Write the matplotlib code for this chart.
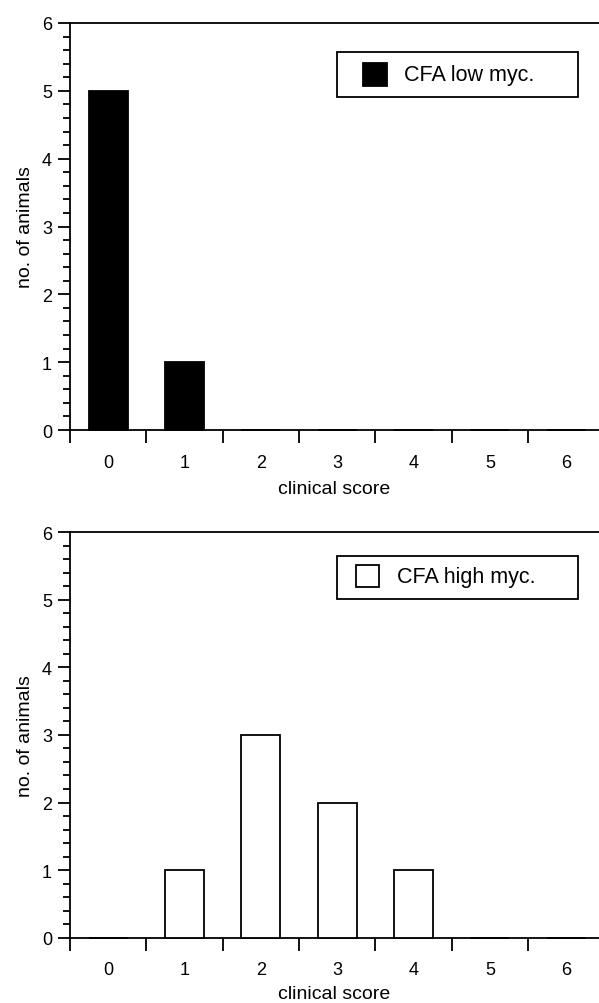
"""Clinical score histograms, CFA low vs high mycobacterium (two stacked panels)."""

import matplotlib
matplotlib.use("Agg")
import matplotlib.pyplot as plt
from matplotlib.patches import Rectangle
from matplotlib.ticker import FixedLocator, MultipleLocator, NullFormatter

# ---------- data -----------------------------------------------------------
SCORES = [0, 1, 2, 3, 4, 5, 6]
LOW_MYC = [5, 1, 0, 0, 0, 0, 0]
HIGH_MYC = [0, 1, 3, 2, 1, 0, 0]
LABELS = ["CFA low myc.", "CFA high myc."]

# ---------- layout (figure / axes fractions) -------------------------------
plt.rcParams["font.family"] = ["Liberation Sans", "DejaVu Sans"]
LW = 1.3

PANELS = [
    {"rect": [0.1169, 0.5707, 0.8831, 0.4054], "counts": LOW_MYC,
     "label": LABELS[0], "face": "black", "xpad": 7,
     "frame": (0.505, 0.818, 0.455, 0.111), "key": (0.554, 0.845, 0.046, 0.057),
     "text": (0.631, 0.873)},
    {"rect": [0.1169, 0.0650, 0.8831, 0.4041], "counts": HIGH_MYC,
     "label": LABELS[1], "face": "white", "xpad": 4.5,
     "frame": (0.505, 0.835, 0.455, 0.106), "key": (0.541, 0.865, 0.044, 0.054),
     "text": (0.618, 0.891)},
]

fig = plt.figure(figsize=(5.99, 10.04), dpi=100)

for p in PANELS:
    ax = fig.add_axes(p["rect"])
    ax.bar(SCORES, p["counts"], width=0.51, color=p["face"], edgecolor="black",
           linewidth=LW, zorder=3, clip_on=False)

    ax.set_xlim(-0.5, 6.43)
    ax.set_ylim(0, 6)
    ax.spines["right"].set_visible(False)
    for s in ("left", "bottom", "top"):
        ax.spines[s].set_linewidth(LW)

    # x: ticks at class boundaries, labels at class centres
    ax.xaxis.set_major_locator(FixedLocator([x - 0.5 for x in SCORES]))
    ax.xaxis.set_major_formatter(NullFormatter())
    ax.xaxis.set_minor_locator(FixedLocator(SCORES))
    ax.set_xticklabels([str(s) for s in SCORES], minor=True)
    ax.tick_params(axis="x", which="major", direction="out", length=9,
                   width=LW, top=False)
    ax.tick_params(axis="x", which="minor", length=0, pad=17, labelsize=13)

    # y: integer majors, 0.2 minors
    ax.yaxis.set_major_locator(MultipleLocator(1))
    ax.yaxis.set_minor_locator(MultipleLocator(0.2))
    ax.tick_params(axis="y", which="major", direction="out", length=9,
                   width=LW, pad=4, labelsize=13)
    ax.tick_params(axis="y", which="minor", direction="out", length=5,
                   width=LW)

    ax.set_xlabel("clinical score", fontsize=14, labelpad=p["xpad"])
    ax.set_ylabel("no. of animals", fontsize=14, labelpad=6)

    # boxed key, drawn in axes coordinates
    fx, fy, fw, fh = p["frame"]
    ax.add_patch(Rectangle((fx, fy), fw, fh, transform=ax.transAxes,
                           facecolor="white", edgecolor="black", linewidth=LW,
                           zorder=5))
    kx, ky, kw, kh = p["key"]
    ax.add_patch(Rectangle((kx, ky), kw, kh, transform=ax.transAxes,
                           facecolor=p["face"], edgecolor="black", linewidth=LW,
                           zorder=6))
    tx, ty = p["text"]
    ax.text(tx, ty, p["label"], transform=ax.transAxes, fontsize=15.5,
            va="center", ha="left", zorder=6)

fig.savefig("out.png", dpi=100)
